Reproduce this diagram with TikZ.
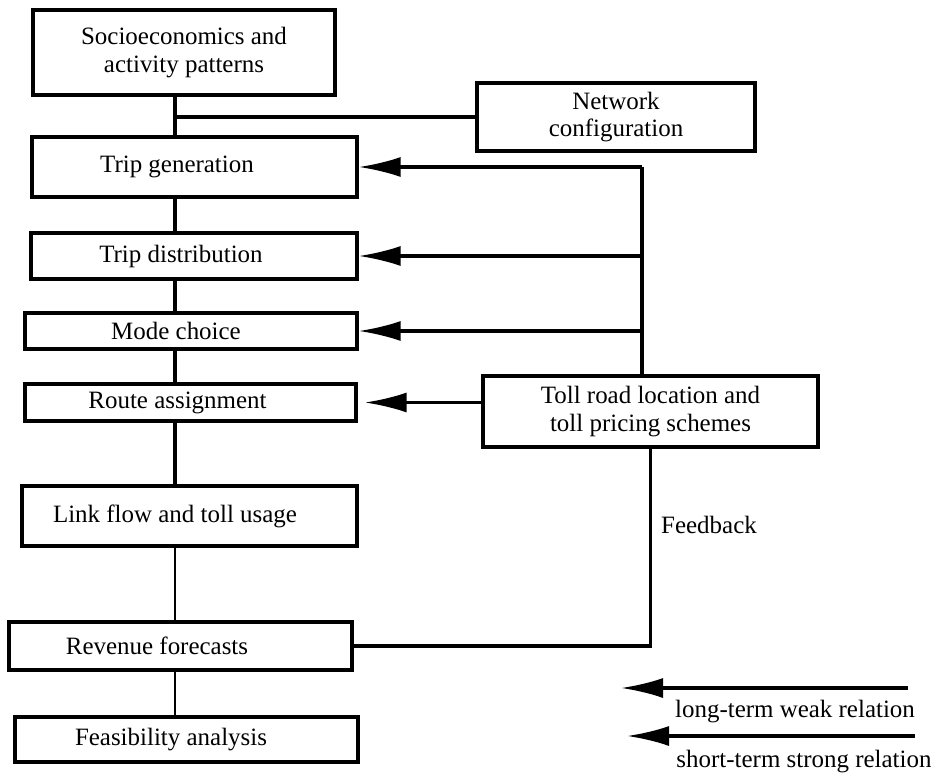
\documentclass[tikz,border=0pt]{standalone}
\usepackage{fontspec}
\setmainfont{Liberation Serif}
\usetikzlibrary{arrows.meta}

\tikzset{
  box/.style={draw, line width=1.8pt, inner sep=2pt, align=center},
  link/.style={line width=1.9pt},
  thinlink/.style={line width=1.6pt},
  feed/.style={line width=1.9pt, -{Latex[length=8.4mm,width=4mm]}},
}

\begin{document}
\begin{tikzpicture}[font=\fontsize{14.2}{15.5}\selectfont]
\useasboundingbox (0,0) rectangle (18.82,15.66);

% main chain
\node [box, minimum width=6.04cm, minimum height=1.7cm] (socio) at (3.68,14.61) {Socioeconomics and\\activity patterns};
\node [box, minimum width=6.5cm, minimum height=1.2cm] (tripgen) at (3.89,12.32) {Trip generation\hspace*{0.7cm}};
\node [box, minimum width=6.52cm, minimum height=0.92cm] (tripdist) at (3.88,10.54) {Trip distribution\hspace*{0.52cm}};
\node [box, minimum width=6.64cm, minimum height=0.72cm] (mode) at (3.82,9.04) {Mode choice\hspace*{0.6cm}};
\node [box, minimum width=6.62cm, minimum height=0.74cm] (route) at (3.81,7.61) {Route assignment\hspace*{0.52cm}};
\node [box, minimum width=6.7cm, minimum height=1.2cm] (linkflow) at (3.79,5.34) {Link flow and toll usage\hspace*{0.58cm}};
\node [box, minimum width=6.86cm, minimum height=0.96cm] (revenue) at (3.61,2.74) {Revenue forecasts\hspace*{0.94cm}};
\node [box, minimum width=6.86cm, minimum height=0.9cm] (feas) at (3.73,0.87) {Feasibility analysis\hspace*{0.62cm}};

% right side
\node [box, minimum width=5.56cm, minimum height=1.36cm] (network) at (12.32,13.32) {Network\\configuration};
\node [box, minimum width=6.7cm, minimum height=1.42cm] (toll) at (13.01,7.43) {Toll road location and\\toll pricing schemes};
\node (fblabel) at (14.18,5.16) {Feedback};

\coordinate (spine) at (3.5,0);
\coordinate (bus) at (12.84,0);

\draw [link] (spine |- socio.south) -- (spine |- tripgen.north);
\draw [link] (spine |- network.west) -- (network.west);
\draw [link] (spine |- tripgen.south) -- (spine |- tripdist.north);
\draw [link] (spine |- tripdist.south) -- (spine |- mode.north);
\draw [link] (spine |- mode.south) -- (spine |- route.north);
\draw [link] (spine |- route.south) -- (spine |- linkflow.north);
\draw [thinlink] (spine |- linkflow.south) -- (spine |- revenue.north);
\draw [thinlink] (spine |- revenue.south) -- (spine |- feas.north);

% toll scheme back to the steps
\draw [link] (bus |- tripgen.east) -- (bus |- toll.north);
\draw [feed] (bus |- tripgen.east) -- (tripgen.east);
\draw [feed] (bus |- tripdist.east) -- (tripdist.east);
\draw [feed] (bus |- mode.east) -- (mode.east);
\draw [feed, shorten >=0.14cm] (toll.west |- route.east) -- (route.east);
\draw [link] (toll.south) |- (revenue.east);

% legend
\coordinate (weakend) at (18.16,1.90);
\coordinate (weaktip) at (12.42,1.90);
\coordinate (strongend) at (18.3,0.94);
\coordinate (strongtip) at (12.54,0.94);
\draw [feed] (weakend) -- (weaktip);
\draw [feed] (strongend) -- (strongtip);
\node (weaklabel) at (15.9,1.42) {long-term weak relation};
\node (stronglabel) at (16.08,0.42) {short-term strong relation};

\end{tikzpicture}
\end{document}
